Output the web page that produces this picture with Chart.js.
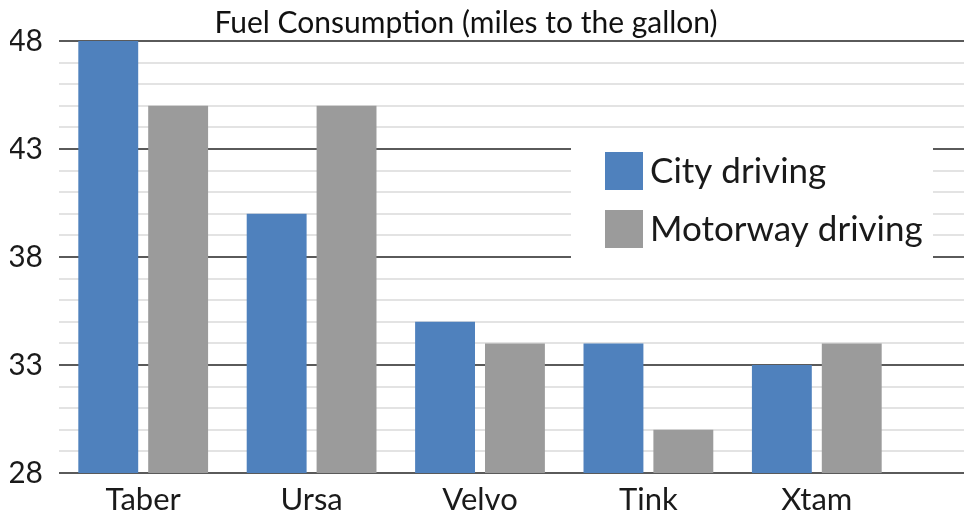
<!DOCTYPE html>
<html>
<head>
<meta charset="utf-8">
<script src="https://cdn.jsdelivr.net/npm/chart.js@4.4.1/dist/chart.umd.min.js"></script>
<style>
  html, body { margin: 0; padding: 0; background: #fff; }
  .chart-wrap { position: relative; width: 964px; height: 517px; }
</style>
</head>
<body>
<div class="chart-wrap"><canvas id="fuelChart"></canvas></div>
<script>
const categories = ['Taber', 'Ursa', 'Velvo', 'Tink', 'Xtam'];
const cityDriving = [48, 40, 35, 34, 33];
const motorwayDriving = [45, 45, 34, 30, 34];
const seriesNames = ['City driving', 'Motorway driving'];
const seriesColors = ['#4f81bd', '#9b9b9b'];
const chartTitle = 'Fuel Consumption (miles to the gallon)';
const yMin = 28, yMax = 48, yMajorStep = 5;

const FONT = 'Lato, "Open Sans", sans-serif';

const isMajor = v => (v - yMin) % yMajorStep === 0;

// carry the horizontal grid on past the last category to the edge of the canvas
const gridExtend = {
  id: 'gridExtend',
  beforeDatasetsDraw(chart) {
    const { ctx, chartArea, scales: { y } } = chart;
    ctx.save();
    y.ticks.forEach(t => {
      const py = Math.round(y.getPixelForValue(t.value));
      ctx.strokeStyle = isMajor(t.value) ? '#5a5a5a' : '#e3e3e3';
      ctx.lineWidth = 2;
      ctx.beginPath();
      ctx.moveTo(chartArea.right, py);
      ctx.lineTo(chart.width, py);
      ctx.stroke();
    });
    ctx.restore();
  }
};

// title sits a bit left of centre in the original, so it is drawn by hand
const titleText = {
  id: 'titleText',
  afterDraw(chart) {
    const { ctx } = chart;
    ctx.save();
    ctx.font = '30px ' + FONT;
    ctx.fillStyle = '#111';
    ctx.textAlign = 'center';
    ctx.textBaseline = 'alphabetic';
    ctx.fillText(chartTitle, 466, 33);
    ctx.restore();
  }
};

// legend box that sits inside the plot, over the gridlines
const boxLegend = {
  id: 'boxLegend',
  afterDatasetsDraw(chart) {
    const { ctx, scales: { y } } = chart;
    const top = y.getPixelForValue(43.9);
    const bottom = y.getPixelForValue(37.4);
    ctx.save();
    ctx.fillStyle = '#fff';
    ctx.fillRect(571, top, 362, bottom - top);
    ctx.font = '35px ' + FONT;
    ctx.textBaseline = 'middle';
    seriesNames.forEach((name, i) => {
      const cy = 171 + i * 58;
      ctx.fillStyle = seriesColors[i];
      ctx.fillRect(605, cy - 19, 38, 38);
      ctx.fillStyle = '#1a1a1a';
      ctx.fillText(name, 650, cy + 1);
    });
    ctx.restore();
  }
};

new Chart(document.getElementById('fuelChart'), {
  type: 'bar',
  data: {
    labels: categories,
    datasets: [
      { label: seriesNames[0], data: cityDriving, backgroundColor: seriesColors[0] },
      { label: seriesNames[1], data: motorwayDriving, backgroundColor: seriesColors[1] }
    ]
  },
  options: {
    responsive: true,
    maintainAspectRatio: false,
    animation: false,
    categoryPercentage: 0.83,
    barPercentage: 0.857,
    layout: { padding: { left: 10, right: 63, top: 41, bottom: 3 } },
    plugins: {
      legend: { display: false },
      tooltip: { enabled: false },
      title: { display: false }
    },
    scales: {
      x: {
        afterFit(scale) { scale.height = 41; },
        grid: { display: false, drawTicks: false },
        border: { display: false },
        ticks: { color: '#1a1a1a', padding: 8, font: { family: FONT, size: 31 } }
      },
      y: {
        min: yMin,
        max: yMax,
        afterFit(scale) { scale.width = 49; },
        border: { display: false },
        grid: {
          drawTicks: false,
          color: ctx => isMajor(ctx.tick.value) ? '#5a5a5a' : '#e3e3e3',
          lineWidth: 2
        },
        ticks: {
          stepSize: 1,
          autoSkip: false,
          padding: 16,
          color: '#1a1a1a',
          font: { family: FONT, size: 30 },
          callback: v => isMajor(v) ? v : ''
        }
      }
    }
  },
  plugins: [gridExtend, boxLegend, titleText]
});
</script>
</body>
</html>
